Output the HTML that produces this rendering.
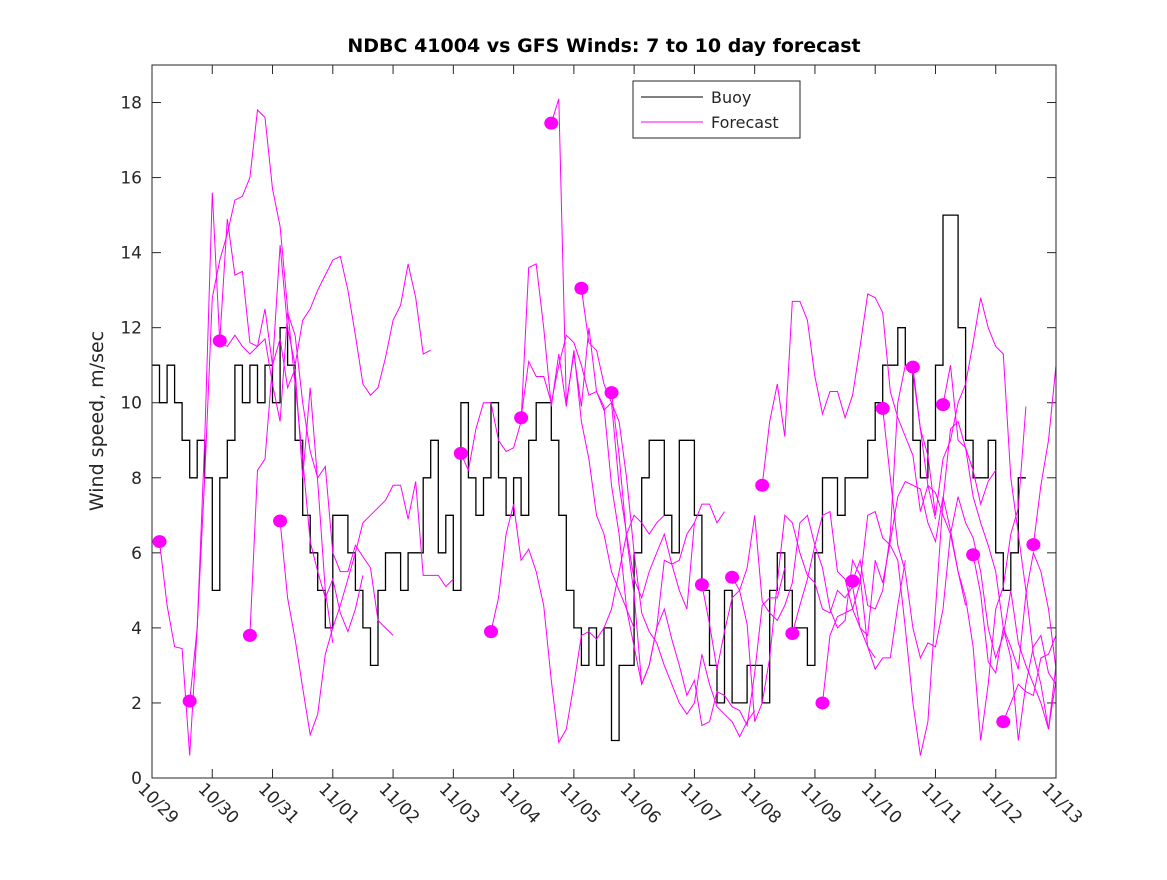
<!DOCTYPE html>
<html><head><meta charset="utf-8"><style>
body{margin:0;background:#fff;}
svg text{font-family:"DejaVu Sans","Liberation Sans",sans-serif;fill:#262626;}
</style></head><body>
<svg id="chart" width="1167" height="875" xmlns="http://www.w3.org/2000/svg">
<rect width="1167" height="875" fill="#fff"/>
<text x="604" y="52" text-anchor="middle" font-size="19" font-weight="bold" style="fill:#000">NDBC 41004 vs GFS Winds: 7 to 10 day forecast</text>
<text transform="translate(103,421) rotate(-90)" text-anchor="middle" font-size="19">Wind speed, m/sec</text>
<defs><clipPath id="pc"><rect x="152" y="65" width="904" height="713"/></clipPath></defs>
<g id="ticks"></g>
<g id="buoyG" clip-path="url(#pc)"></g>
<g id="fcG" clip-path="url(#pc)"></g>
<rect x="152" y="65" width="904" height="713" fill="none" stroke="#262626" stroke-width="1"/>
<g>
<rect x="633" y="81" width="167" height="57" fill="#fff" stroke="#262626"/>
<line x1="641" y1="97" x2="703" y2="97" stroke="#000"/>
<text x="711" y="103" font-size="16">Buoy</text>
<line x1="641" y1="122" x2="703" y2="122" stroke="#f0f"/>
<text x="711" y="128" font-size="16">Forecast</text>
</g>
</svg>
<script>
const xTickLabels=["10/29","10/30","10/31","11/01","11/02","11/03","11/04","11/05","11/06","11/07","11/08","11/09","11/10","11/11","11/12","11/13"];
const yTicks=[0,2,4,6,8,10,12,14,16,18];
const buoyStep=0.125;
const buoyValues=[11,10,11,10,9,8,9,8,5,8,9,11,10,11,10,11,10,12,11,9,7,6,5,4,7,7,6,5,4,3,5,6,6,5,6,6,8,9,6,7,5,10,8,7,8,10,8,7,8,7,9,10,10,9,7,5,4,3,4,3,4,1,3,3,6,8,9,9,7,6,9,9,7,5,3,2,5,2,2,3,3,2,5,6,5,4,4,3,6,8,8,7,8,8,8,9,10,11,11,12,11,9,8,9,11,15,15,12,9,8,8,9,6,5,6,8];
const fcStep=0.125;
const fcStarts=[0.125,0.625,1.125,1.625,2.125,5.125,5.625,6.125,6.625,7.125,7.625,9.125,9.625,10.125,10.625,11.125,11.625,12.125,12.625,13.125,13.625,14.125,14.625];
const fcValues=[
[6.3,4.6,3.5,3.45,0.6,4,9,15.6,11.6,11.5,11.8,11.5,11.3,11.5,12.5,11,11.7,10.4,10.9,8,10.4,7.9,5,3.6],
[2.05,4,8,12.8,13.8,14.5,15.4,15.5,16,17.8,17.6,15.7,14.7,12.5,10.5,8.5,6.3,5.5,4.8,5.3,4.4,3.9,4.5,5.4],
[11.65,14.9,13.4,13.5,11.6,11.5,11.7,10.5,9.5,12.4,11.8,10,8.7,8,8.3,6,5.5,5.5,6.2,5.9,5.6,4.2,4,3.8],
[3.8,8.2,8.5,11,14.2,12,11,12.2,12.5,13,13.4,13.8,13.9,13,11.8,10.5,10.2,10.4,11.2,12.2,12.6,13.7,12.8,11.3,11.4],
[6.85,4.8,3.7,2.4,1.15,1.7,3.3,4,4.6,5.3,6,6.8,7,7.2,7.4,7.8,7.8,6.9,7.9,5.4,5.4,5.4,5.1,5.3],
[8.65,8.2,9.3,10,10,9,8.7,8.8,9.5,13.6,13.7,12,9.9,11.3,9.9,11.4,9.5,8.5,7,6.5,5.5,5,4.5,4],
[3.9,4.8,6.5,7.3,5.8,6.1,5.5,4.6,2.6,0.95,1.3,2.5,3.8,3.9,3.7,4,4.5,5.5,6.5,7,6.8,6.5,6.8,7],
[9.6,11.1,10.7,10.7,10,11,11.8,11.6,11,10.2,10.3,9.9,7.8,6.5,4.5,3.5,2.5,3,4,5.8,5.7,5.8,6.5,6.8],
[17.45,18.1,10,11.3,9.9,12,10.3,9.8,10,7.8,6.5,5.3,4.8,5.5,6,6.5,5.7,5,4.5,6.8,7.3,7.3,6.8,7.1],
[13.05,11.6,11.4,10.5,10,9.5,8,6,4.4,3.9,3.6,3,2.5,2,1.7,2,3.3,2.5,1.9,1.7,1.5,1.1,1.5,1.8],
[10.27,8.6,6.4,4.9,2.5,3,4,4.5,3.7,3,2.2,2.6,1.4,1.5,2.3,2.2,1.9,1.8,1.4,2.8,4.6,4.8,4.8,5.6],
[5.15,4.1,2.9,3.9,4.8,5,5.6,7,4.7,4.4,4.2,4.6,5.2,6.8,7,6.2,5.6,4.5,4,4.2,5.8,5.4,3.5,3.2],
[5.35,5,4.1,1.5,2,3.2,5.2,7,6.8,6,5.4,5.2,4.5,4.4,5,4.8,5.1,4,3.5,2.9,3.2,3.2,4.6,5.8],
[7.8,9.5,10.5,9.1,12.7,12.7,12.2,10.7,9.7,10.3,10.3,9.6,10.2,11.5,12.9,12.8,12.4,10.3,9.6,9.1,8.6,7.1,7.8,6.9],
[3.85,4.6,5.3,6.2,7,7.1,5.5,5.3,4.5,4,3.8,5.8,5.2,6.3,7.5,7.9,7.8,7.7,6.8,6.3,7.5,6.6,5.5,4.6],
[2,3.8,4.3,4.4,4.5,5.2,7,7.1,6.4,6.2,5.8,4,2,0.6,1.5,4.5,7.4,9.3,9.5,8.8,8.2,7.3,7.9,8.2],
[5.25,5.8,4.6,4.5,5,6.5,10,11,10.8,9.3,7.8,7.6,7,6.5,5.5,4.8,3.5,1,2.5,4.5,5.1,6.5,7.2,9.9],
[9.85,8,6.2,5.5,4,3.2,3.6,3.5,4.5,6.5,7.5,6.8,6.4,5.5,4,3.2,3.8,5,3.6,3,2.5,2,1.3,2.6],
[10.95,9.3,8.6,7,8.5,9,10,10.5,11.6,12.8,12,11.5,11.3,8,6.5,5,3.3,2.5,1.3,3,3.5,2.7,4,5.5],
[9.95,11,9,8.8,7.5,6.8,6.2,5.5,4,3.2,1,2.5,3.5,3.8,2.8,2.5,2.2,1.5,0.9,1.2,2.5,3.2,4.2,6],
[5.95,4.9,3.1,2.8,4,3.5,2.9,4.9,6,5.5,4.5,2.9,1.7,3.3,6,8.5,9.3,10.9,11,8.6,8,7.5,7],
[1.5,2,2.5,2.3,2.2,3.2,3.3,3.8,5.7,8.3,9.9,9.9,8.5,8,7.5,7],
[6.22,7.8,9,11,10.9,10,9,8.8]
];
const X0=152,X1=1056,Y0=778,Y1=65,DAYS=15,YMAX=19;
function xs(d){return X0+(X1-X0)*d/DAYS;}
function ys(v){return Y0-(Y0-Y1)*v/YMAX;}
const NS="http://www.w3.org/2000/svg";
const tg=document.getElementById('ticks');
function mk(tag,attrs,parent){const e=document.createElementNS(NS,tag);for(const k in attrs)e.setAttribute(k,attrs[k]);parent.appendChild(e);return e;}
xTickLabels.forEach((lab,i)=>{
  const x=xs(i);
  const t1=mk('line',{x1:x,y1:Y0,x2:x,y2:Y0-9,stroke:'#262626'},tg);
  
  
  const t2=mk('line',{x1:x,y1:Y1,x2:x,y2:Y1+9,stroke:'#262626'},tg);
  
  
  const tx=mk('text',{x:0,y:0,'font-size':17,transform:`translate(${x-15},${Y0+12}) rotate(45)`},tg);
  tx.textContent=lab;
  
  
});
yTicks.forEach(v=>{
  const y=ys(v);
  const a=mk('line',{x1:X0,y1:y,x2:X0+9,y2:y,stroke:'#262626'},tg);
  
  
  const b=mk('line',{x1:X1,y1:y,x2:X1-9,y2:y,stroke:'#262626'},tg);
  
  
  const tx=mk('text',{x:X0-10,y:y+6,'font-size':17,'text-anchor':'end'},tg);
  tx.textContent=v;
  
  
});
let d='';
buoyValues.forEach((v,i)=>{
  const xa=xs(i*buoyStep),xb=xs((i+1)*buoyStep),y=ys(v);
  d+=(i===0?'M':'L')+xa.toFixed(1)+','+y.toFixed(1)+'L'+xb.toFixed(1)+','+y.toFixed(1);
});
const bp=mk('path',{d:d,fill:'none',stroke:'#000','stroke-width':1.3},document.getElementById('buoyG'));


const fg=document.getElementById('fcG');
fcValues.forEach((vals,k)=>{
  const s=fcStarts[k];
  const pd=vals.map((v,i)=>(i?'L':'M')+xs(s+i*fcStep).toFixed(1)+','+ys(v).toFixed(1)).join('');
  const p=mk('path',{d:pd,fill:'none',stroke:'#f0f','stroke-width':1},fg);
  
  
});
fcValues.forEach((vals,k)=>{
  const c=mk('ellipse',{cx:xs(fcStarts[k]),cy:ys(vals[0]),rx:7,ry:6.5,fill:'#f0f'},fg);
  
  
});
</script>
</body></html>
